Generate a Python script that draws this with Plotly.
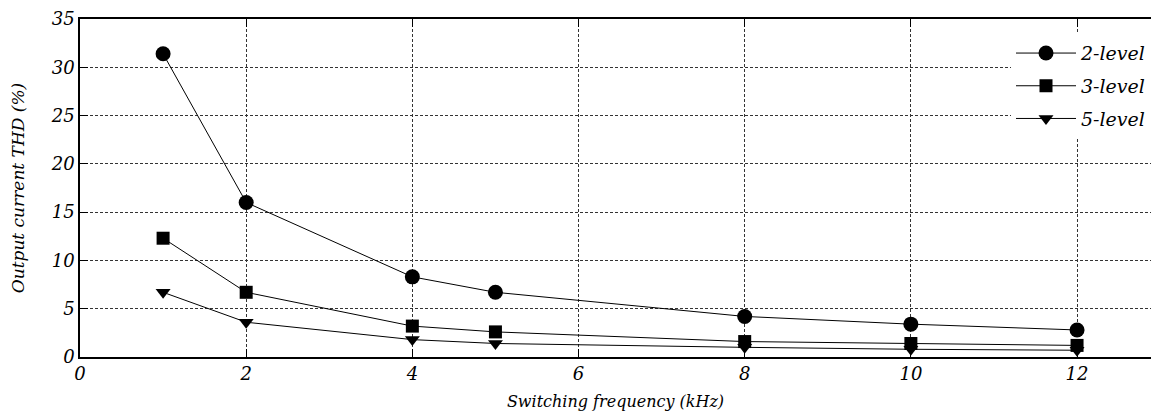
import plotly.graph_objects as go

freq = [1, 2, 4, 5, 8, 10, 12]
thd_2level = [31.4, 16.0, 8.3, 6.7, 4.2, 3.4, 2.8]
thd_3level = [12.3, 6.7, 3.2, 2.6, 1.6, 1.4, 1.2]
thd_5level = [6.7, 3.6, 1.8, 1.4, 1.0, 0.8, 0.7]
series_names = ["2-level", "3-level", "5-level"]

FONT = "DejaVu Serif"

fig = go.Figure()
for name, vals, sym, size in [
    (series_names[0], thd_2level, "circle", 15),
    (series_names[1], thd_3level, "square", 13),
    (series_names[2], thd_5level, "triangle-down", 13),
]:
    fig.add_trace(go.Scatter(
        x=freq, y=vals, name=name, legendgroup=name, mode="lines+markers",
        line=dict(color="black", width=1),
        marker=dict(symbol=sym, size=size, color="black"),
    ))

axis_common = dict(
    showline=True, linecolor="black", linewidth=1.5,
    ticks="inside", ticklen=8, tickcolor="black", tickwidth=1,
    showgrid=True, gridcolor="#333", gridwidth=1, griddash="3px,2px",
    zeroline=False,
    tickfont=dict(family=FONT, size=18, color="black", style="italic"),
)

fig.update_xaxes(
    range=[0, 12.89], tickvals=[0, 2, 4, 6, 8, 10, 12],
    mirror="ticks",
    title=dict(text="Switching frequency (kHz)", standoff=12,
               font=dict(family=FONT, size=16, color="black", style="italic")),
    **axis_common,
)
fig.update_yaxes(
    range=[0, 35], tickvals=[0, 5, 10, 15, 20, 25, 30, 35],
    title=dict(text="Output current THD (%)", standoff=22,
               font=dict(family=FONT, size=17, color="black", style="italic")),
    **axis_common,
)

fig.update_layout(
    width=1151, height=419,
    margin=dict(l=80, r=0, t=19, b=62),
    plot_bgcolor="white", paper_bgcolor="white",
    font=dict(family=FONT, color="black"),
    legend=dict(
        x=1.0, y=0.955, xanchor="right", yanchor="top",
        bgcolor="white", borderwidth=0,
        font=dict(family=FONT, size=19, color="black", style="italic"),
        itemwidth=60, tracegroupgap=5,
    ),
    showlegend=True,
)

fig.write_html("out.html")
